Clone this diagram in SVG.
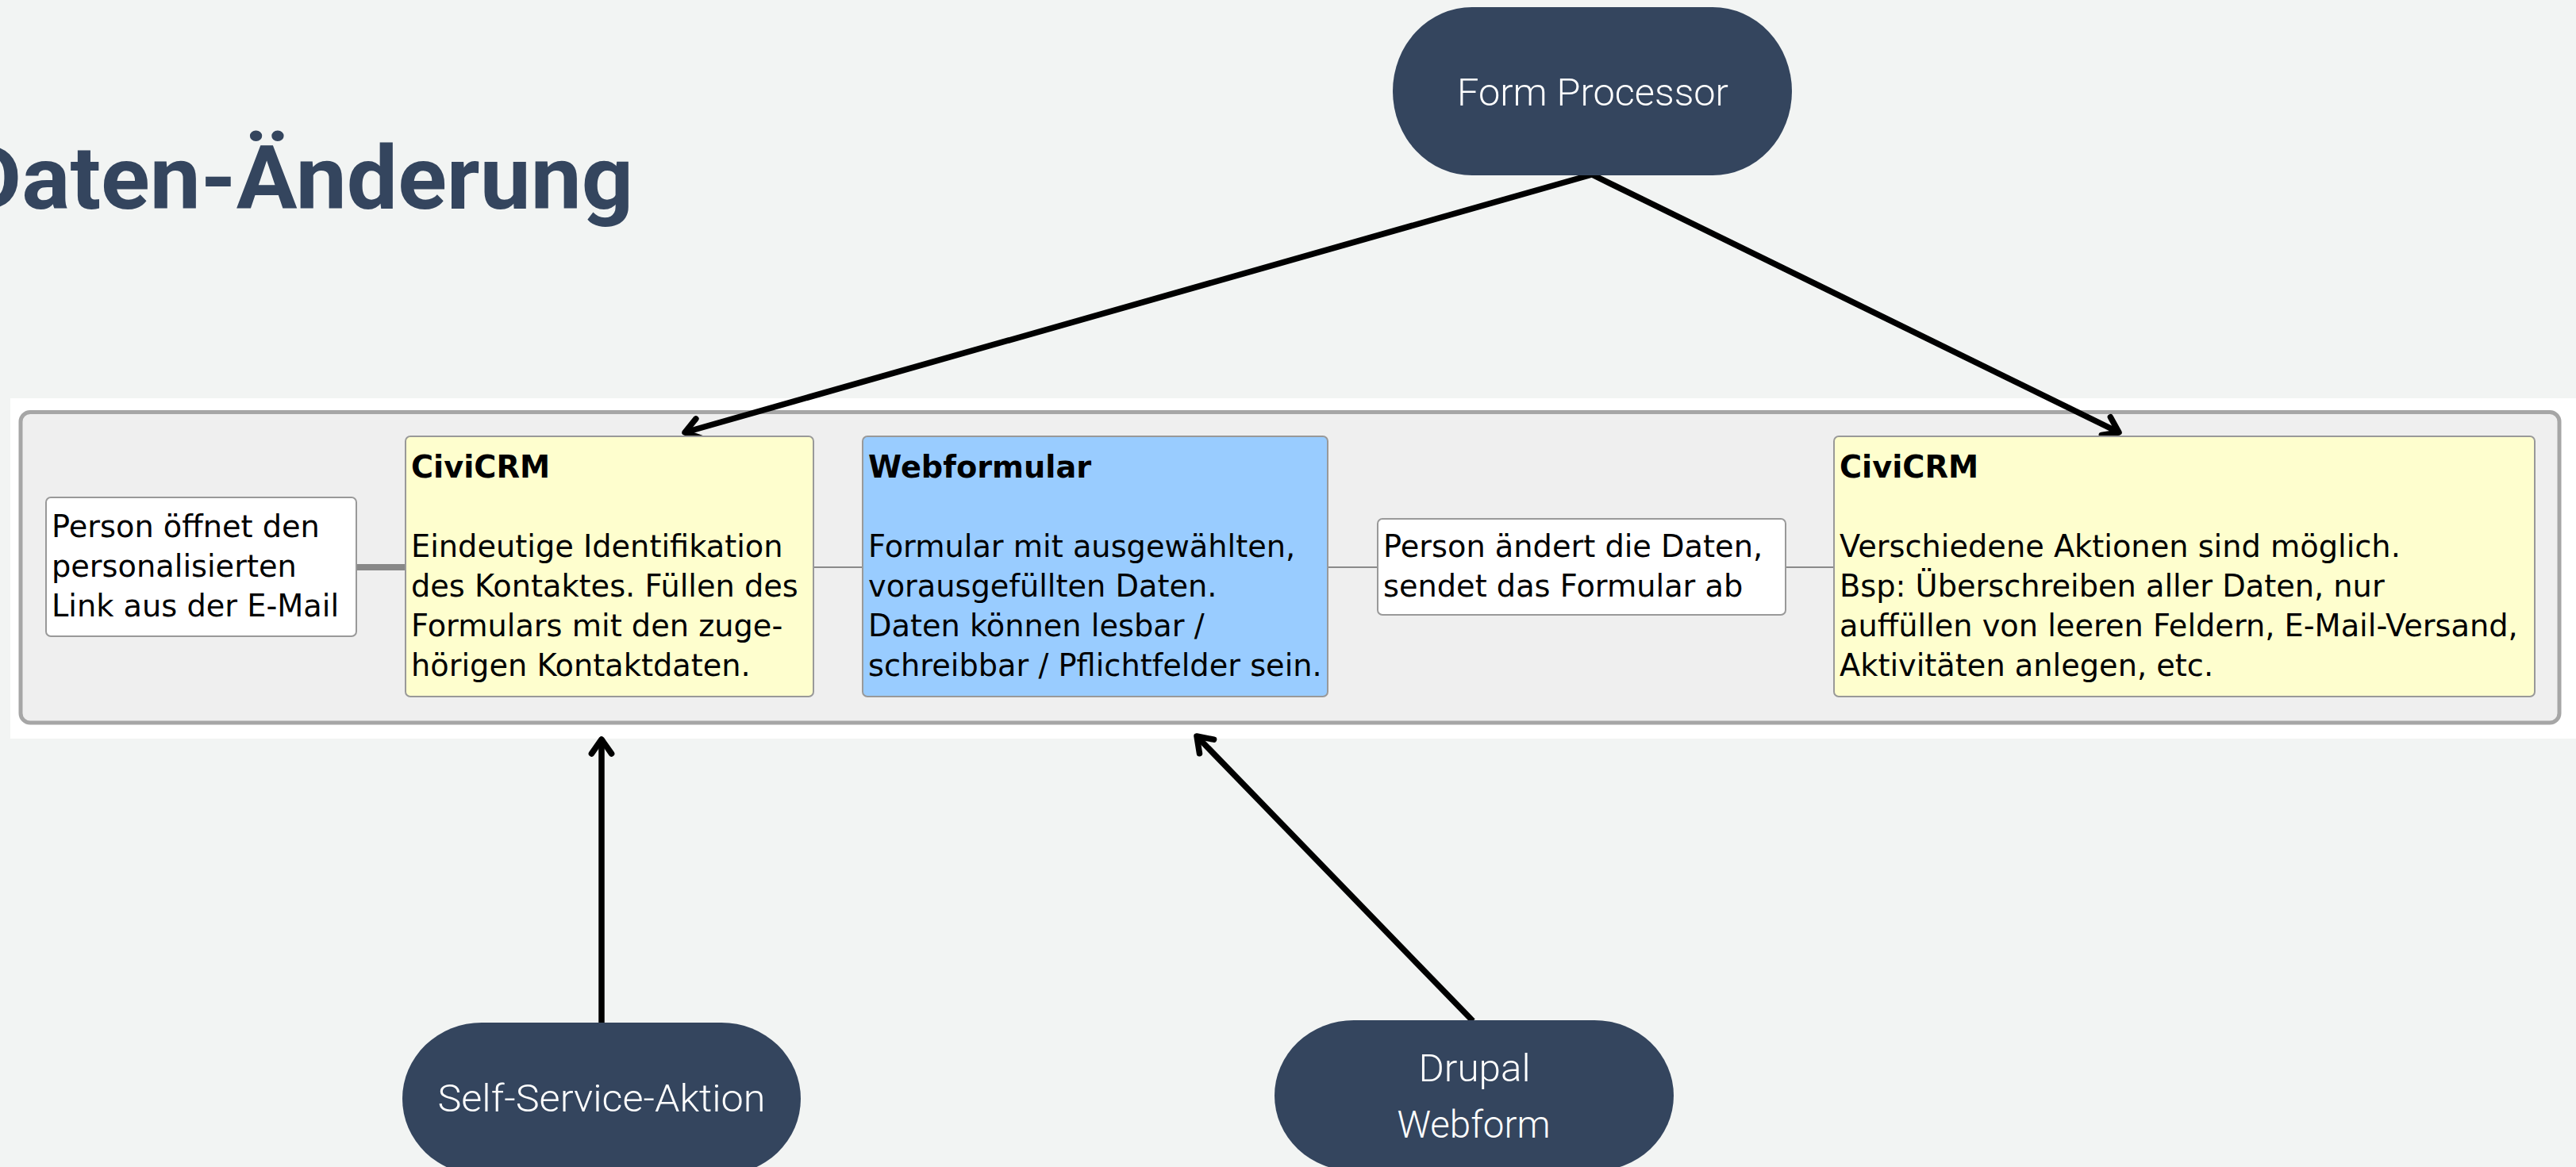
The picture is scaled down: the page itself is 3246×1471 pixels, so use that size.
<svg xmlns="http://www.w3.org/2000/svg" width="3246" height="1471" viewBox="0 0 3246 1471">
<defs>
<style>
.bg{fill:#f2f4f3}
.pill{fill:#34455e}
.pilltxt{font-family:Roboto,"Open Sans","DejaVu Sans",sans-serif;font-weight:300;font-size:48px;fill:#ffffff;text-anchor:middle}
.title{font-family:Roboto,"DejaVu Sans",sans-serif;font-weight:bold;font-size:111px;fill:#34455e}
.box{stroke:#999999;stroke-width:2}
.txt{font-family:"DejaVu Sans","Liberation Sans",sans-serif;font-size:38.3px;fill:#000000}
.bold{font-weight:bold}
.link{stroke:#8a8a8a;stroke-width:2;fill:none}
.arrow{stroke:#000000;stroke-width:7.5;fill:none;marker-end:url(#head)}
</style>
<marker id="head" markerUnits="userSpaceOnUse" markerWidth="60" markerHeight="60" viewBox="-30 -30 60 60" refX="0" refY="0" orient="auto" overflow="visible">
<path d="M-18,-12.6 L0,0 L-18,12.6" fill="none" stroke="#000000" stroke-width="7.5" stroke-linecap="round" stroke-linejoin="round"/>
</marker>
</defs>
<rect class="bg" x="0" y="0" width="3246" height="1471"/>
<g id="title">
<text class="title" x="-47" y="263" textLength="845" lengthAdjust="spacingAndGlyphs">Daten-Änderung</text>
</g>
<g id="frame">
<rect x="13" y="502" width="3233" height="429" fill="#ffffff"/>
<rect x="26" y="519.5" width="3199" height="391.5" rx="12" ry="12" fill="#efefef" stroke="#a6a6a6" stroke-width="5"/>
</g>
<g id="connectors">
<line x1="449" y1="715" x2="511" y2="715" stroke="#888888" stroke-width="8"/>
<line class="link" x1="1025" y1="715" x2="1087" y2="715"/>
<line class="link" x1="1673" y1="715" x2="1736" y2="715"/>
<line class="link" x1="2250" y1="715" x2="2311" y2="715"/>
<line class="arrow" x1="2006" y1="220" x2="863" y2="545"/>
<line class="arrow" x1="2006" y1="220" x2="2670" y2="545"/>
<line class="arrow" x1="758" y1="1289" x2="758" y2="932"/>
<line class="arrow" x1="1856" y1="1287" x2="1508" y2="928"/>
</g>
<g id="node-person-opens">
<rect class="box" x="58" y="627" width="391" height="175" rx="6" fill="#ffffff"/>
<text class="txt" x="65" y="677">Person öffnet den</text>
<text class="txt" x="65" y="727">personalisierten</text>
<text class="txt" x="65" y="777">Link aus der E-Mail</text>
</g>
<g id="node-civicrm-1">
<rect class="box" x="511" y="550" width="514" height="328" rx="6" fill="#fefece"/>
<text class="txt bold" x="518" y="601.7">CiviCRM</text>
<text class="txt" x="518" y="701.7">Eindeutige Identifikation</text>
<text class="txt" x="518" y="751.7">des Kontaktes. Füllen des</text>
<text class="txt" x="518" y="801.7">Formulars mit den zuge-</text>
<text class="txt" x="518" y="851.7">hörigen Kontaktdaten.</text>
</g>
<g id="node-webformular">
<rect class="box" x="1087" y="550" width="586" height="328" rx="6" fill="#99ccff"/>
<text class="txt bold" x="1094" y="601.7">Webformular</text>
<text class="txt" x="1094" y="701.7">Formular mit ausgewählten,</text>
<text class="txt" x="1094" y="751.7">vorausgefüllten Daten.</text>
<text class="txt" x="1094" y="801.7">Daten können lesbar /</text>
<text class="txt" x="1094" y="851.7">schreibbar / Pflichtfelder sein.</text>
</g>
<g id="node-person-changes">
<rect class="box" x="1736" y="654" width="514" height="121" rx="6" fill="#ffffff"/>
<text class="txt" x="1743" y="701.7">Person ändert die Daten,</text>
<text class="txt" x="1743" y="751.7">sendet das Formular ab</text>
</g>
<g id="node-civicrm-2">
<rect class="box" x="2311" y="550" width="883" height="328" rx="6" fill="#fefece"/>
<text class="txt bold" x="2318" y="601.7">CiviCRM</text>
<text class="txt" x="2318" y="701.7">Verschiedene Aktionen sind möglich.</text>
<text class="txt" x="2318" y="751.7">Bsp: Überschreiben aller Daten, nur</text>
<text class="txt" x="2318" y="801.7">auffüllen von leeren Feldern, E-Mail-Versand,</text>
<text class="txt" x="2318" y="851.7">Aktivitäten anlegen, etc.</text>
</g>
<g id="node-form-processor">
<rect class="pill" x="1755" y="9" width="503" height="212" rx="100" ry="106"/>
<text class="pilltxt" x="2007" y="133" textLength="342" lengthAdjust="spacingAndGlyphs">Form Processor</text>
</g>
<g id="node-self-service">
<rect class="pill" x="507" y="1289" width="502" height="192" rx="100" ry="96"/>
<text class="pilltxt" x="758" y="1401" textLength="413" lengthAdjust="spacingAndGlyphs">Self-Service-Aktion</text>
</g>
<g id="node-drupal-webform">
<rect class="pill" x="1606" y="1286" width="503" height="190" rx="100" ry="95"/>
<text class="pilltxt" x="1858" y="1363" textLength="141" lengthAdjust="spacingAndGlyphs">Drupal</text>
<text class="pilltxt" x="1857" y="1434" textLength="193" lengthAdjust="spacingAndGlyphs">Webform</text>
</g>
</svg>
